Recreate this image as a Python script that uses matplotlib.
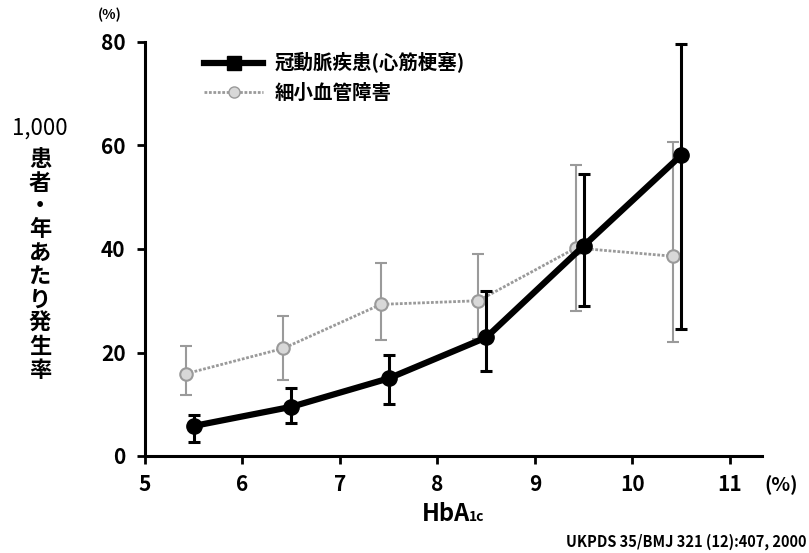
import matplotlib.pyplot as plt
from matplotlib.lines import Line2D

plt.rcParams['font.family'] = ['Noto Sans CJK JP', 'DejaVu Sans']

# HbA1c category positions (the two series are slightly offset in the source)
x_chd = [5.5, 6.5, 7.5, 8.5, 9.5, 10.5]
x_micro = [5.42, 6.42, 7.42, 8.42, 9.42, 10.42]

# coronary heart disease (myocardial infarction), per 1,000 patient-years
chd = [5.8, 9.5, 15.0, 22.9, 40.6, 58.1]
chd_low = [2.7, 6.4, 10.1, 16.5, 28.9, 24.5]
chd_high = [8.0, 13.2, 19.6, 31.8, 54.4, 79.6]

# microvascular disease
micro = [15.9, 20.8, 29.3, 30.0, 40.2, 38.6]
micro_low = [11.8, 14.6, 22.5, 22.7, 28.0, 22.0]
micro_high = [21.2, 27.0, 37.3, 39.0, 56.3, 60.6]

x_ticks = [5, 6, 7, 8, 9, 10, 11]
y_ticks = [0, 20, 40, 60, 80]

fig = plt.figure(figsize=(8.09, 5.53), dpi=100)
# axes: x=5 at px 145, y=0 at px 456, y=80 at px 42
ax = fig.add_axes([145 / 809, 1 - 456 / 553, 617 / 809, 414 / 553])

gray = '#9a9a9a'
ax.errorbar(x_micro, micro,
            yerr=[[m - lo for m, lo in zip(micro, micro_low)],
                  [hi - m for m, hi in zip(micro, micro_high)]],
            color=gray, lw=2, ls=(0, (1, 0.6)), marker='o', ms=9,
            mfc='#d8d8d8', mec=gray, mew=1.5,
            ecolor=gray, elinewidth=1.5, capsize=4.5, capthick=1.5, zorder=2)
ax.errorbar(x_chd, chd,
            yerr=[[c - lo for c, lo in zip(chd, chd_low)],
                  [hi - c for c, hi in zip(chd, chd_high)]],
            color='black', lw=4.5, marker='o', ms=11,
            ecolor='black', elinewidth=2.2, capsize=4.5, capthick=2.2, zorder=3)

ax.set_xlim(5, 11.33)
ax.set_ylim(0, 80)
ax.set_xticks(x_ticks)
ax.set_yticks(y_ticks)
ax.tick_params(axis='both', direction='out', length=6, width=2, labelsize=15)
ax.tick_params(axis='x', pad=7)
ax.tick_params(axis='y', pad=8)
for lab in ax.get_xticklabels() + ax.get_yticklabels():
    lab.set_fontweight('bold')
ax.spines['top'].set_visible(False)
ax.spines['right'].set_visible(False)
ax.spines['left'].set_linewidth(2.2)
ax.spines['bottom'].set_linewidth(2.2)

handles = [
    Line2D([], [], color='black', lw=4.5, marker='s', ms=10),
    Line2D([], [], color=gray, lw=2, ls=(0, (1, 0.6)), marker='o', ms=8,
           mfc='#d8d8d8', mec=gray),
]
ax.legend(handles, ['冠動脈疾患(心筋梗塞)', '細小血管障害'],
          loc='upper left', bbox_to_anchor=(0.068, 1.017), frameon=False,
          prop={'size': 14, 'weight': 'bold'}, handlelength=3.0,
          handletextpad=0.6, labelspacing=0.55)

fig.text(110 / 809, 1 - 15 / 553, '(%)', fontsize=10, fontweight='bold',
         ha='center', va='center')
fig.text(40 / 809, 1 - 128 / 553, '1,000', fontsize=16, ha='center', va='center')
fig.text(40 / 809, 1 - 265 / 553, '\n'.join('患者・年あたり発生率'),
         fontsize=16, fontweight='bold', ha='center', va='center',
         linespacing=1.02)
fig.text(422 / 809, 1 - 521 / 553, 'HbA', fontsize=17, fontweight='bold',
         ha='left', va='baseline')
fig.text(469 / 809, 1 - 521 / 553, '1c', fontsize=10, fontweight='bold',
         ha='left', va='baseline')
fig.text(781 / 809, 1 - 485 / 553, '(%)', fontsize=14, fontweight='bold',
         ha='center', va='center')
fig.text(807 / 809, 1 - 542 / 553, 'UKPDS 35/BMJ 321 (12):407, 2000',
         fontsize=10.5, fontweight='bold', ha='right', va='center')

fig.savefig('out.png', dpi=100)
